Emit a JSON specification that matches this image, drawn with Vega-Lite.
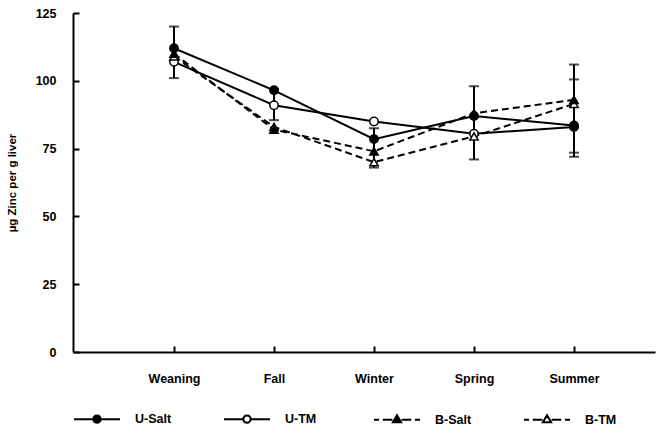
{
  "$schema": "https://vega.github.io/schema/vega-lite/v6.json",
  "autosize": {"type": "none"},
  "padding": {"left": 73, "top": 13, "right": 6, "bottom": 84},
  "width": 582,
  "height": 339,
  "background": "white",
  "config": {
    "view": {"stroke": null},
    "font": "Liberation Sans",
    "axis": {
      "domainColor": "black", "domainWidth": 2, "ticks": true, "tickColor": "black", "tickWidth": 2,
      "labelColor": "black", "labelFont": "Liberation Sans", "labelFontWeight": "bold", "labelFontSize": 12.5,
      "titleColor": "black", "titleFont": "Liberation Sans", "titleFontWeight": "bold", "titleFontSize": 11.5,
      "grid": false
    }
  },
  "data": {
    "values": [
      {"season": "Weaning", "idx": 1, "group": "U-Salt", "value": 112, "lo": 101, "hi": 120},
      {"season": "Weaning", "idx": 1, "group": "U-TM", "value": 107, "lo": null, "hi": null},
      {"season": "Weaning", "idx": 1, "group": "B-Salt", "value": 110, "lo": null, "hi": null},
      {"season": "Weaning", "idx": 1, "group": "B-TM", "value": 109, "lo": null, "hi": null},
      {"season": "Fall", "idx": 2, "group": "U-Salt", "value": 96.5, "lo": null, "hi": null},
      {"season": "Fall", "idx": 2, "group": "U-TM", "value": 91, "lo": 85.5, "hi": 97},
      {"season": "Fall", "idx": 2, "group": "B-Salt", "value": 82, "lo": null, "hi": null},
      {"season": "Fall", "idx": 2, "group": "B-TM", "value": 83, "lo": null, "hi": null},
      {"season": "Winter", "idx": 3, "group": "U-Salt", "value": 78.5, "lo": 68, "hi": 82.5},
      {"season": "Winter", "idx": 3, "group": "U-TM", "value": 85, "lo": null, "hi": null},
      {"season": "Winter", "idx": 3, "group": "B-Salt", "value": 74, "lo": null, "hi": null},
      {"season": "Winter", "idx": 3, "group": "B-TM", "value": 70, "lo": null, "hi": null},
      {"season": "Spring", "idx": 4, "group": "U-Salt", "value": 87, "lo": 71, "hi": 98},
      {"season": "Spring", "idx": 4, "group": "U-TM", "value": 80.5, "lo": null, "hi": null},
      {"season": "Spring", "idx": 4, "group": "B-Salt", "value": 88, "lo": null, "hi": null},
      {"season": "Spring", "idx": 4, "group": "B-TM", "value": 79.5, "lo": null, "hi": null},
      {"season": "Summer", "idx": 5, "group": "U-Salt", "value": 83.5, "lo": 73.5, "hi": 100.5},
      {"season": "Summer", "idx": 5, "group": "U-TM", "value": 83, "lo": null, "hi": null},
      {"season": "Summer", "idx": 5, "group": "B-Salt", "value": 93, "lo": 72, "hi": 106},
      {"season": "Summer", "idx": 5, "group": "B-TM", "value": 91.5, "lo": null, "hi": null}
    ]
  },
  "encoding": {
    "x": {
      "field": "idx", "type": "quantitative",
      "scale": {"domain": [-0.01, 5.81], "nice": false, "zero": false},
      "axis": {
        "title": null, "values": [1, 2, 3, 4, 5], "ticks": true, "tickSize": -6, "labelPadding": 26,
        "labelExpr": "['', 'Weaning', 'Fall', 'Winter', 'Spring', 'Summer'][datum.value]"
      }
    },
    "y": {"field": "value", "type": "quantitative", "scale": {"domain": [0, 125], "nice": false},
      "axis": {"title": "µg Zinc per g liver", "values": [0, 25, 50, 75, 100, 125], "ticks": true, "tickSize": -6, "labelPadding": 23, "titlePadding": 18}}
  },
  "layer": [
    {
      "transform": [{"filter": "datum.group === 'U-Salt' || datum.group === 'U-TM'"}],
      "mark": {"type": "line", "color": "black", "strokeWidth": 2},
      "encoding": {"detail": {"field": "group"}}
    },
    {
      "transform": [{"filter": "datum.group === 'B-Salt' || datum.group === 'B-TM'"}],
      "mark": {"type": "line", "color": "black", "strokeWidth": 2, "strokeDash": [7, 4]},
      "encoding": {"detail": {"field": "group"}}
    },
    {
      "transform": [{"filter": "isValid(datum.lo)"}],
      "mark": {"type": "rule", "color": "black", "strokeWidth": 2},
      "encoding": {
        "y": {"field": "lo", "type": "quantitative"},
        "y2": {"field": "hi"}
      }
    },
    {
      "transform": [{"filter": "isValid(datum.lo)"}],
      "mark": {"type": "tick", "orient": "horizontal", "color": "black", "size": 10, "thickness": 2},
      "encoding": {"y": {"field": "lo", "type": "quantitative"}}
    },
    {
      "transform": [{"filter": "isValid(datum.hi)"}],
      "mark": {"type": "tick", "orient": "horizontal", "color": "black", "size": 10, "thickness": 2},
      "encoding": {"y": {"field": "hi", "type": "quantitative"}}
    },
    {
      "transform": [{"filter": "datum.group === 'U-TM'"}],
      "mark": {"type": "point", "shape": "circle", "filled": true, "fill": "white", "stroke": "black", "strokeWidth": 1.5, "size": 70, "opacity": 1}
    },
    {
      "transform": [{"filter": "datum.group === 'B-TM'"}],
      "mark": {"type": "point", "shape": "triangle-up", "filled": true, "fill": "white", "stroke": "black", "strokeWidth": 1.5, "size": 70, "opacity": 1}
    },
    {
      "transform": [{"filter": "datum.group === 'B-Salt'"}],
      "mark": {"type": "point", "shape": "triangle-up", "filled": true, "fill": "black", "stroke": "black", "strokeWidth": 1.5, "size": 70, "opacity": 1}
    },
    {
      "transform": [{"filter": "datum.group === 'U-Salt'"}],
      "mark": {"type": "point", "shape": "circle", "filled": true, "fill": "black", "stroke": "black", "strokeWidth": 1.5, "size": 70, "opacity": 1}
    },
    {
      "transform": [{"filter": "false"}],
      "mark": {"type": "point", "filled": false, "color": "black", "strokeWidth": 2, "opacity": 1},
      "encoding": {
        "shape": {"field": "group", "type": "nominal",
          "scale": {"domain": ["U-Salt", "U-TM", "B-Salt", "B-TM"],
            "range": [
              "M-1,0H1M-0.16,0A0.16,0.16 0 1,0 0.16,0A0.16,0.16 0 1,0 -0.16,0ZM-0.09,0A0.09,0.09 0 1,0 0.09,0A0.09,0.09 0 1,0 -0.09,0ZM-0.03,0A0.03,0.03 0 1,0 0.03,0A0.03,0.03 0 1,0 -0.03,0Z",
              "M-1,0H-0.16M0.16,0H1M-0.16,0A0.16,0.16 0 1,0 0.16,0A0.16,0.16 0 1,0 -0.16,0Z",
              "M-1,0H-0.78M-0.62,0H-0.2M0.2,0H0.62M0.78,0H1M0,-0.2L0.18,0.11L-0.18,0.11ZM0,-0.08L0.08,0.06L-0.08,0.06ZM0,-0.16V0.1",
              "M-1,0H-0.78M-0.62,0H-0.2M0.2,0H0.62M0.78,0H1M0,-0.2L0.18,0.11L-0.18,0.11Z"
            ]},
          "legend": {
            "orient": "bottom", "offset": 10, "direction": "horizontal", "columns": 4,
            "gridAlign": "all", "columnPadding": 48, "title": null,
            "symbolSize": 2116, "symbolStrokeColor": "black", "symbolStrokeWidth": 2, "symbolFillColor": "white", "symbolOpacity": 1,
            "labelFont": "Liberation Sans", "labelFontWeight": "bold", "labelFontSize": 12.5, "labelColor": "black", "labelOffset": 14
          }
        }
      }
    }
  ]
}
